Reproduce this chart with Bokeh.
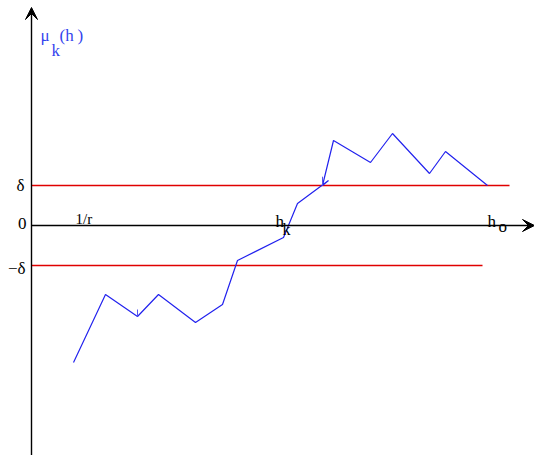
from bokeh.plotting import figure
from bokeh.models import Range1d, Arrow, VeeHead, Label
from bokeh.embed import file_html
from bokeh.resources import INLINE

# Path of mu_k(h): h in arbitrary units, mu in units of delta
h_vals = [4.2, 7.4, 10.6, 12.7, 16.4, 19.1, 20.6, 25.2, 26.6, 29.7, 29.1, 30.2, 33.9, 36.1, 39.8, 41.4, 45.6]
mu_vals = [-3.425, -1.725, -2.275, -1.725, -2.425, -1.975, -0.875, -0.3, 0.55, 1.125, 1.0, 2.125, 1.575, 2.3, 1.3, 1.85, 1.0]

# small tick artifacts on the path
tick_h = [10.6, 29.1]
tick_lo = [-2.275, 1.0]
tick_hi = [-2.1, 1.22]

delta = 1.0
delta_end_pos = 47.8
delta_end_neg = 45.1
x_axis_end = 50.3
y_axis_top = 5.45
y_axis_bottom = -5.75

FONT = "Liberation Serif"

p = figure(width=534, height=455, output_backend="svg", toolbar_location=None,
           x_range=Range1d(-3.1, 50.3), y_range=Range1d(-5.75, 5.625),
           min_border=0, min_border_left=0, min_border_right=0,
           min_border_top=0, min_border_bottom=0)
p.axis.visible = False
p.grid.visible = False
p.outline_line_color = None
p.background_fill_color = "white"
p.border_fill_color = "white"

# delta lines
p.segment(x0=[0, 0], y0=[delta, -delta], x1=[delta_end_pos, delta_end_neg],
          y1=[delta, -delta], line_color="#e00000", line_width=1.5)

# axes with arrows
p.add_layout(Arrow(end=VeeHead(size=12, fill_color="black", line_color="black"),
                   x_start=0, y_start=0, x_end=x_axis_end, y_end=0,
                   line_color="black", line_width=1.4))
p.add_layout(Arrow(end=VeeHead(size=12, fill_color="black", line_color="black"),
                   x_start=0, y_start=y_axis_bottom, x_end=0, y_end=y_axis_top,
                   line_color="black", line_width=1.4))

# path
p.line(h_vals, mu_vals, line_color="#2222ee", line_width=1.2)
p.segment(x0=tick_h, y0=tick_lo, x1=tick_h, y1=tick_hi, line_color="#5555ee", line_width=1)

def lab(x, y, t, size="13px", color="black", xo=0, yo=0, align="left"):
    p.add_layout(Label(x=x, y=y, text=t, text_font=FONT, text_font_size=size,
                       text_color=color, x_offset=xo, y_offset=yo,
                       text_align=align, text_baseline="alphabetic"))

# left labels
lab(0, delta, "δ", size="17px", xo=-7, yo=0, align="right")
lab(0, 0, "0", size="17px", xo=-5, yo=2, align="right")
lab(0, -delta, "−δ", size="17px", xo=-6, yo=-3, align="right")

# x labels
lab(4.4, 0, "1/r", size="15px", yo=7)
lab(24.4, 0, "h", size="17px", yo=4)
lab(25.1, 0, "k", size="16px", yo=-4)
lab(45.6, 0, "h", size="17px", yo=4)
lab(46.7, 0, "o", size="17px", yo=-1)

# y label
lab(0.9, 4.75, "μ", size="17px", color="#3344ee")
lab(2.0, 4.38, "k", size="17px", color="#3344ee")
lab(2.8, 4.75, "(h", size="17px", color="#3344ee")
lab(4.6, 4.75, ")", size="17px", color="#3344ee")

open("out.html", "w").write(file_html(p, INLINE))
